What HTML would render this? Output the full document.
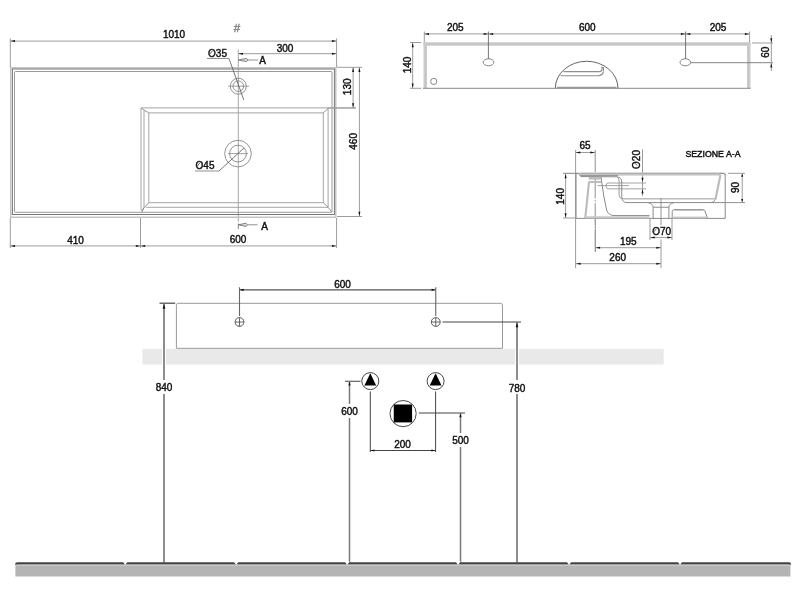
<!DOCTYPE html>
<html><head><meta charset="utf-8"><style>
html,body{margin:0;padding:0;background:#fff;width:800px;height:600px;overflow:hidden}
svg{display:block;will-change:transform}
text{font-family:"Liberation Sans",sans-serif}
</style></head><body>
<svg width="800" height="600" viewBox="0 0 800 600">
<line x1="10.3" y1="38.5" x2="10.3" y2="67.5" stroke="#9c9c9c" stroke-width="1" />
<line x1="336.6" y1="38.5" x2="336.6" y2="67.5" stroke="#9c9c9c" stroke-width="1" />
<line x1="10.3" y1="41.1" x2="336.6" y2="41.1" stroke="#9c9c9c" stroke-width="1" />
<polygon points="10.50,41.10 15.00,40.10 15.00,42.10" fill="#111"/>
<polygon points="336.40,41.10 331.90,42.10 331.90,40.10" fill="#111"/>
<text x="174" y="38.3" font-size="10" fill="#111" stroke="#111" stroke-width="0.42" text-anchor="middle" >1010</text>
<text x="237" y="31.8" font-size="11.5" fill="#8a8a8a" stroke="#8a8a8a" stroke-width="0.5" text-anchor="middle" >#</text>
<line x1="238.3" y1="53.7" x2="336.6" y2="53.7" stroke="#9c9c9c" stroke-width="1" />
<polygon points="238.50,53.70 243.00,52.70 243.00,54.70" fill="#111"/>
<polygon points="336.40,53.70 331.90,54.70 331.90,52.70" fill="#111"/>
<text x="285" y="51.7" font-size="10" fill="#111" stroke="#111" stroke-width="0.42" text-anchor="middle" >300</text>
<line x1="238.3" y1="49.5" x2="238.3" y2="221.5" stroke="#9c9c9c" stroke-width="0.9" />
<line x1="248" y1="60" x2="257.8" y2="60" stroke="#888" stroke-width="0.9" />
<polygon points="238.4,60 246.3,58.4 248.1,60 246.3,61.6" fill="#ddd" stroke="#555" stroke-width="0.7"/>
<text x="262.5" y="64" font-size="10" fill="#111" stroke="#111" stroke-width="0.42" text-anchor="middle" >A</text>
<line x1="247.5" y1="224.8" x2="257.6" y2="224.8" stroke="#888" stroke-width="0.9" />
<polygon points="238.4,224.8 246,223.2 247.6,224.8 246,226.4" fill="#ddd" stroke="#555" stroke-width="0.7"/>
<text x="264.5" y="229.5" font-size="10" fill="#111" stroke="#111" stroke-width="0.42" text-anchor="middle" >A</text>
<line x1="238.3" y1="223.5" x2="238.3" y2="229" stroke="#777" stroke-width="0.9" />
<rect x="10.75" y="67.75" width="325" height="149.5" fill="none" stroke="#c4c4c4" stroke-width="1.5" />
<rect x="12.4" y="69.0" width="322" height="145.5" fill="none" stroke="#777" stroke-width="1" />
<rect x="14.5" y="71.5" width="317.5" height="140.8" fill="none" stroke="#9a9a9a" stroke-width="1" rx="0.8"/>
<line x1="141" y1="107.9" x2="356" y2="107.9" stroke="#a4a4a4" stroke-width="1" />
<line x1="141" y1="107.9" x2="141" y2="210.5" stroke="#a4a4a4" stroke-width="1" />
<line x1="144" y1="110.5" x2="144" y2="207.3" stroke="#a4a4a4" stroke-width="1" />
<line x1="148.8" y1="112.9" x2="323.3" y2="112.9" stroke="#a4a4a4" stroke-width="1" />
<line x1="148.8" y1="112.9" x2="148.8" y2="202.7" stroke="#a4a4a4" stroke-width="1" />
<line x1="323.3" y1="112.9" x2="323.3" y2="202.7" stroke="#a4a4a4" stroke-width="1" />
<line x1="148.8" y1="202.7" x2="323.3" y2="202.7" stroke="#a4a4a4" stroke-width="1" />
<line x1="328.1" y1="108" x2="328.1" y2="207.3" stroke="#a4a4a4" stroke-width="1" />
<line x1="146" y1="207.3" x2="328.1" y2="207.3" stroke="#a4a4a4" stroke-width="1" />
<line x1="141.5" y1="108.5" x2="148.8" y2="112.9" stroke="#7a7a7a" stroke-width="0.8" />
<line x1="323.3" y1="112.9" x2="328.1" y2="108.5" stroke="#7a7a7a" stroke-width="0.8" />
<line x1="148.8" y1="202.7" x2="141.5" y2="210.5" stroke="#7a7a7a" stroke-width="0.8" />
<line x1="144" y1="207.3" x2="142" y2="212.3" stroke="#7a7a7a" stroke-width="0.8" />
<line x1="323.3" y1="202.7" x2="328.1" y2="207.3" stroke="#7a7a7a" stroke-width="0.8" />
<line x1="328.1" y1="207.3" x2="331.9" y2="212.3" stroke="#7a7a7a" stroke-width="0.8" />
<circle cx="238.3" cy="86.2" r="8" stroke="#888" stroke-width="0.9" fill="none"/>
<circle cx="238.3" cy="86.2" r="5.3" stroke="#888" stroke-width="0.9" fill="none"/>
<line x1="228" y1="86.2" x2="249" y2="86.2" stroke="#888" stroke-width="0.8" />
<text x="217.5" y="56.5" font-size="10" fill="#111" stroke="#111" stroke-width="0.42" text-anchor="middle" >O35</text>
<line x1="207" y1="58.5" x2="229" y2="58.5" stroke="#777" stroke-width="0.8" />
<line x1="229" y1="58.5" x2="243.8" y2="100" stroke="#555" stroke-width="0.8" />
<circle cx="238" cy="153.6" r="13.3" stroke="#888" stroke-width="0.9" fill="none"/>
<circle cx="238" cy="153.6" r="8.4" stroke="#888" stroke-width="0.9" fill="none"/>
<line x1="228" y1="153.6" x2="248" y2="153.6" stroke="#888" stroke-width="0.8" />
<line x1="244" y1="148" x2="219" y2="171" stroke="#555" stroke-width="0.8" />
<line x1="195" y1="171" x2="219" y2="171" stroke="#777" stroke-width="0.8" />
<text x="205" y="168.5" font-size="10" fill="#111" stroke="#111" stroke-width="0.42" text-anchor="middle" >O45</text>
<line x1="337" y1="67.3" x2="362" y2="67.3" stroke="#9c9c9c" stroke-width="1" />
<line x1="328" y1="108" x2="356" y2="108" stroke="#9c9c9c" stroke-width="1" />
<line x1="337" y1="216.5" x2="362" y2="216.5" stroke="#9c9c9c" stroke-width="1" />
<line x1="353.1" y1="67.3" x2="353.1" y2="108" stroke="#9c9c9c" stroke-width="1" />
<polygon points="353.10,67.50 354.10,72.00 352.10,72.00" fill="#111"/>
<polygon points="353.10,107.80 352.10,103.30 354.10,103.30" fill="#111"/>
<line x1="359.4" y1="67.3" x2="359.4" y2="216.5" stroke="#9c9c9c" stroke-width="1" />
<polygon points="359.40,67.50 360.40,72.00 358.40,72.00" fill="#111"/>
<polygon points="359.40,216.30 358.40,211.80 360.40,211.80" fill="#111"/>
<text x="351" y="86.8" font-size="10" fill="#111" stroke="#111" stroke-width="0.42" text-anchor="middle" transform="rotate(-90 351 86.8)" >130</text>
<text x="357" y="141.4" font-size="10" fill="#111" stroke="#111" stroke-width="0.42" text-anchor="middle" transform="rotate(-90 357 141.4)" >460</text>
<line x1="10.3" y1="218" x2="10.3" y2="248" stroke="#9c9c9c" stroke-width="1" />
<line x1="140.5" y1="218" x2="140.5" y2="248" stroke="#9c9c9c" stroke-width="1" />
<line x1="336.6" y1="218" x2="336.6" y2="248" stroke="#9c9c9c" stroke-width="1" />
<line x1="10.3" y1="245.9" x2="336.6" y2="245.9" stroke="#9c9c9c" stroke-width="1" />
<polygon points="10.50,245.90 15.00,244.90 15.00,246.90" fill="#111"/>
<polygon points="140.30,245.90 135.80,246.90 135.80,244.90" fill="#111"/>
<polygon points="140.70,245.90 145.20,244.90 145.20,246.90" fill="#111"/>
<polygon points="336.40,245.90 331.90,246.90 331.90,244.90" fill="#111"/>
<text x="75.5" y="243.6" font-size="10" fill="#111" stroke="#111" stroke-width="0.42" text-anchor="middle" >410</text>
<text x="238" y="243.3" font-size="10" fill="#111" stroke="#111" stroke-width="0.42" text-anchor="middle" >600</text>
<rect x="423.5" y="42.3" width="327" height="3.4" fill="#c6c6c6" stroke="none" stroke-width="1" />
<rect x="423.5" y="42.3" width="3" height="46" fill="#cccccc" stroke="none" stroke-width="1" />
<rect x="747.5" y="42.3" width="3" height="46" fill="#cccccc" stroke="none" stroke-width="1" />
<line x1="426.2" y1="45.5" x2="426.2" y2="88" stroke="#b0b0b0" stroke-width="0.7" />
<line x1="747.8" y1="45.5" x2="747.8" y2="88" stroke="#b0b0b0" stroke-width="0.7" />
<line x1="423" y1="88.3" x2="750.7" y2="88.3" stroke="#8a8a8a" stroke-width="1" />
<line x1="424.3" y1="31.5" x2="424.3" y2="42" stroke="#9c9c9c" stroke-width="1" />
<line x1="749.6" y1="31.5" x2="749.6" y2="42" stroke="#9c9c9c" stroke-width="1" />
<line x1="424.3" y1="33.9" x2="749.6" y2="33.9" stroke="#9c9c9c" stroke-width="1" />
<line x1="488.4" y1="31.5" x2="488.4" y2="59" stroke="#666" stroke-width="0.9" />
<line x1="685.6" y1="31.5" x2="685.6" y2="59" stroke="#666" stroke-width="0.9" />
<polygon points="424.50,33.90 429.00,32.90 429.00,34.90" fill="#111"/>
<polygon points="488.20,33.90 483.70,34.90 483.70,32.90" fill="#111"/>
<polygon points="488.60,33.90 493.10,32.90 493.10,34.90" fill="#111"/>
<polygon points="685.40,33.90 680.90,34.90 680.90,32.90" fill="#111"/>
<polygon points="685.80,33.90 690.30,32.90 690.30,34.90" fill="#111"/>
<polygon points="749.40,33.90 744.90,34.90 744.90,32.90" fill="#111"/>
<text x="455.3" y="31" font-size="10" fill="#111" stroke="#111" stroke-width="0.42" text-anchor="middle" >205</text>
<text x="587.3" y="31" font-size="10" fill="#111" stroke="#111" stroke-width="0.42" text-anchor="middle" >600</text>
<text x="718" y="31" font-size="10" fill="#111" stroke="#111" stroke-width="0.42" text-anchor="middle" >205</text>
<ellipse cx="488.5" cy="62.3" rx="5.3" ry="3.5" fill="none" stroke="#777" stroke-width="0.9"/>
<ellipse cx="685.3" cy="62.3" rx="5.3" ry="3.5" fill="none" stroke="#777" stroke-width="0.9"/>
<circle cx="433.75" cy="81.4" r="3.1" stroke="#777" stroke-width="0.9" fill="none"/>
<line x1="410" y1="42.5" x2="421.3" y2="42.5" stroke="#9c9c9c" stroke-width="1" />
<line x1="410" y1="88.3" x2="421.3" y2="88.3" stroke="#9c9c9c" stroke-width="1" />
<line x1="412.7" y1="42.5" x2="412.7" y2="88.3" stroke="#9c9c9c" stroke-width="1" />
<polygon points="412.70,42.70 413.70,47.20 411.70,47.20" fill="#111"/>
<polygon points="412.70,88.10 411.70,83.60 413.70,83.60" fill="#111"/>
<text x="410.5" y="65" font-size="10" fill="#111" stroke="#111" stroke-width="0.42" text-anchor="middle" transform="rotate(-90 410.5 65)" >140</text>
<line x1="752" y1="43" x2="773" y2="43" stroke="#9c9c9c" stroke-width="1" />
<line x1="690.4" y1="62.7" x2="773" y2="62.7" stroke="#777" stroke-width="0.9" />
<line x1="771.3" y1="35" x2="771.3" y2="71" stroke="#9c9c9c" stroke-width="1" />
<polygon points="771.30,42.80 770.30,38.30 772.30,38.30" fill="#111"/>
<polygon points="771.30,62.90 772.30,67.40 770.30,67.40" fill="#111"/>
<text x="769" y="52.3" font-size="10" fill="#111" stroke="#111" stroke-width="0.42" text-anchor="middle" transform="rotate(-90 769 52.3)" >60</text>
<path d="M555.3,88.3 A31.3,27 0 0 1 618,88.3" stroke="#555" stroke-width="0.9" fill="none" />
<path d="M563.5,71.6 L599.5,71.6 Q602,71.6 602,69 L602,67.2 L603.5,67.6 L603.5,71" stroke="#8e8e8e" stroke-width="1.1" fill="none" />
<path d="M560.5,75.7 L598,75.7 Q602.5,75.7 603.5,71.5" stroke="#8e8e8e" stroke-width="1.1" fill="none" />
<line x1="557" y1="87.6" x2="616.5" y2="87.6" stroke="#999" stroke-width="1.6" />
<text x="713" y="156.6" font-size="9.4" fill="#111" stroke="#111" stroke-width="0.45" text-anchor="middle" textLength="55.2" lengthAdjust="spacingAndGlyphs">SEZIONE A-A</text>
<line x1="575.6" y1="150" x2="575.6" y2="218" stroke="#9c9c9c" stroke-width="1" />
<line x1="575.6" y1="218" x2="575.6" y2="268" stroke="#9c9c9c" stroke-width="1" />
<line x1="575.6" y1="152.5" x2="595" y2="152.5" stroke="#9c9c9c" stroke-width="1" />
<polygon points="575.80,152.50 580.30,151.50 580.30,153.50" fill="#111"/>
<polygon points="594.80,152.50 590.30,153.50 590.30,151.50" fill="#111"/>
<text x="585" y="149" font-size="10" fill="#111" stroke="#111" stroke-width="0.42" text-anchor="middle" >65</text>
<line x1="595.2" y1="150" x2="595.2" y2="252" stroke="#909090" stroke-width="1" stroke-dasharray="22,1.5,1.5,1.5"/>
<line x1="563" y1="173.5" x2="576" y2="173.5" stroke="#9c9c9c" stroke-width="1" />
<line x1="563" y1="218" x2="576" y2="218" stroke="#9c9c9c" stroke-width="1" />
<line x1="565.6" y1="173.5" x2="565.6" y2="218" stroke="#9c9c9c" stroke-width="1" />
<polygon points="565.60,173.70 566.60,178.20 564.60,178.20" fill="#111"/>
<polygon points="565.60,217.80 564.60,213.30 566.60,213.30" fill="#111"/>
<text x="564" y="196.4" font-size="10" fill="#111" stroke="#111" stroke-width="0.42" text-anchor="middle" transform="rotate(-90 564 196.4)" >140</text>
<line x1="642.5" y1="149.4" x2="642.5" y2="196" stroke="#9c9c9c" stroke-width="1" />
<polygon points="642.50,182.30 641.50,177.80 643.50,177.80" fill="#111"/>
<polygon points="642.50,189.00 643.50,193.50 641.50,193.50" fill="#111"/>
<text x="640" y="159.5" font-size="10" fill="#111" stroke="#111" stroke-width="0.42" text-anchor="middle" transform="rotate(-90 640 159.5)" >O20</text>
<path d="M646,183 L608,183 Q606,183 606,186 Q606,188.85 608,188.85 L646,188.85" stroke="#999" stroke-width="0.9" fill="none" />
<line x1="597.4" y1="185.6" x2="628.9" y2="185.6" stroke="#999" stroke-width="0.9" />
<rect x="580" y="172.8" width="140" height="2.8" fill="#c6c6c6" stroke="none" stroke-width="1" />
<line x1="563" y1="173.2" x2="725.4" y2="173.2" stroke="#999" stroke-width="0.8" />
<line x1="576" y1="173" x2="576" y2="218.3" stroke="#8a8a8a" stroke-width="1" />
<line x1="725.2" y1="174" x2="725.2" y2="218.3" stroke="#8a8a8a" stroke-width="1" />
<line x1="576" y1="218.4" x2="725.4" y2="218.4" stroke="#8a8a8a" stroke-width="1" />
<path d="M720,173.2 Q724.5,173 725.2,175" stroke="#888" stroke-width="1" fill="none" />
<path d="M576,173.3 Q578.8,173 579.6,175 L580.8,176.6 L617,176.8 Q621.75,177.3 621.75,182 L621.75,197.5 Q622.2,202.6 627,202.6 L745,202.6" stroke="#8a8a8a" stroke-width="1" fill="none" />
<path d="M617.5,177.5 Q619.1,178.5 619.1,181 L619.1,195.5 Q619.5,198.85 623,198.85" stroke="#9a9a9a" stroke-width="1" fill="none" />
<line x1="580.5" y1="175.6" x2="618" y2="175.6" stroke="#888" stroke-width="0.9" />
<rect x="588.75" y="177" width="12" height="2.6" fill="#bdbdbd" stroke="none" stroke-width="1" />
<rect x="588.5" y="181" width="12.5" height="2" fill="#bdbdbd" stroke="none" stroke-width="1" />
<line x1="589" y1="182" x2="585.3" y2="218" stroke="#bcbcbc" stroke-width="2.2" />
<path d="M601,177 L603.6,195 L606.6,210 Q608.5,215.4 614,215.6 L649.6,215.6" stroke="#8a8a8a" stroke-width="1" fill="none" />
<rect x="585" y="216.3" width="64.6" height="2.2" fill="#c6c6c6" stroke="none" stroke-width="1" />
<path d="M623,198.85 L715.5,198.85" stroke="#9a9a9a" stroke-width="1" fill="none" />
<line x1="720.5" y1="174.5" x2="715.5" y2="199.3" stroke="#bcbcbc" stroke-width="2.2" />
<path d="M715.5,199.3 Q714,202.4 711,202.6" stroke="#888" stroke-width="0.9" fill="none" />
<path d="M648.25,202.75 Q652.8,203.5 653.1,207.25 L653.1,218.4" stroke="#8a8a8a" stroke-width="1" fill="none" />
<path d="M673.75,202.75 Q669.2,203.5 668.9,207.25 L668.9,218.4" stroke="#8a8a8a" stroke-width="1" fill="none" />
<line x1="653.1" y1="207.25" x2="668.9" y2="207.25" stroke="#8a8a8a" stroke-width="1" />
<line x1="661" y1="198" x2="661" y2="225" stroke="#888" stroke-width="0.9" />
<path d="M672.2,218.4 L672.2,211.5 Q672.5,209.5 675,209.5 L703,209.5 Q704.5,209.6 705,211 L707.5,218.4" stroke="#8a8a8a" stroke-width="1" fill="none" />
<line x1="675" y1="210.3" x2="703.5" y2="210.3" stroke="#c0c0c0" stroke-width="1.2" />
<rect x="672.5" y="216.6" width="35" height="1.8" fill="#c6c6c6" stroke="none" stroke-width="1" />
<line x1="650" y1="218" x2="650" y2="240" stroke="#9c9c9c" stroke-width="1" />
<line x1="672" y1="218" x2="672" y2="240" stroke="#9c9c9c" stroke-width="1" />
<line x1="650" y1="237.6" x2="672" y2="237.6" stroke="#9c9c9c" stroke-width="1" />
<polygon points="650.20,237.60 654.70,236.60 654.70,238.60" fill="#111"/>
<polygon points="671.80,237.60 667.30,238.60 667.30,236.60" fill="#111"/>
<text x="661.6" y="234.5" font-size="10" fill="#111" stroke="#111" stroke-width="0.42" text-anchor="middle" >O70</text>
<line x1="595.4" y1="218" x2="595.4" y2="252" stroke="#9c9c9c" stroke-width="1" />
<line x1="661" y1="239.5" x2="661" y2="268" stroke="#9c9c9c" stroke-width="1" />
<line x1="595.4" y1="247.7" x2="661" y2="247.7" stroke="#9c9c9c" stroke-width="1" />
<polygon points="595.60,247.70 600.10,246.70 600.10,248.70" fill="#111"/>
<polygon points="660.80,247.70 656.30,248.70 656.30,246.70" fill="#111"/>
<text x="628.3" y="245" font-size="10" fill="#111" stroke="#111" stroke-width="0.42" text-anchor="middle" >195</text>
<line x1="576" y1="263.7" x2="661" y2="263.7" stroke="#9c9c9c" stroke-width="1" />
<polygon points="576.20,263.70 580.70,262.70 580.70,264.70" fill="#111"/>
<polygon points="660.80,263.70 656.30,264.70 656.30,262.70" fill="#111"/>
<text x="617.7" y="261" font-size="10" fill="#111" stroke="#111" stroke-width="0.42" text-anchor="middle" >260</text>
<line x1="728" y1="173.3" x2="745" y2="173.3" stroke="#9c9c9c" stroke-width="1" />
<line x1="725.4" y1="202.5" x2="745" y2="202.5" stroke="#9c9c9c" stroke-width="1" />
<line x1="742.2" y1="173.3" x2="742.2" y2="202.5" stroke="#9c9c9c" stroke-width="1" />
<polygon points="742.20,173.50 743.20,176.70 741.20,176.70" fill="#111"/>
<polygon points="742.20,202.30 741.20,199.10 743.20,199.10" fill="#111"/>
<text x="739.3" y="187.4" font-size="10" fill="#111" stroke="#111" stroke-width="0.42" text-anchor="middle" transform="rotate(-90 739.3 187.4)" >90</text>
<rect x="142.4" y="348.9" width="521.3" height="15.7" fill="#e9e9e9" stroke="none" stroke-width="1" />
<path d="M176.4,348.3 L176.4,305.3 Q176.4,303.3 178.4,303.3 L500.5,303.3 Q502.5,303.3 502.5,305.3 L502.5,348.3 Z" stroke="#999" stroke-width="1" fill="none" />
<line x1="239.5" y1="289.8" x2="435.75" y2="289.8" stroke="#555" stroke-width="1.25" />
<line x1="239.5" y1="287.3" x2="239.5" y2="316" stroke="#666" stroke-width="1.1" />
<line x1="435.75" y1="287.3" x2="435.75" y2="316" stroke="#666" stroke-width="1.1" />
<polygon points="239.70,289.80 243.70,288.70 243.70,290.90" fill="#111"/>
<polygon points="435.55,289.80 431.55,290.90 431.55,288.70" fill="#111"/>
<text x="342.5" y="288" font-size="10" fill="#111" stroke="#111" stroke-width="0.42" text-anchor="middle" >600</text>
<circle cx="239.5" cy="322" r="4.4" stroke="#555" stroke-width="1" fill="#fff"/>
<line x1="235.1" y1="322" x2="243.9" y2="322" stroke="#555" stroke-width="0.9" />
<line x1="239.5" y1="317.6" x2="239.5" y2="326.4" stroke="#555" stroke-width="0.9" />
<circle cx="435.75" cy="322" r="4.4" stroke="#555" stroke-width="1" fill="#fff"/>
<line x1="431.35" y1="322" x2="440.15" y2="322" stroke="#555" stroke-width="0.9" />
<line x1="435.75" y1="317.6" x2="435.75" y2="326.4" stroke="#555" stroke-width="0.9" />
<line x1="442.5" y1="322" x2="521" y2="322" stroke="#444" stroke-width="1" />
<line x1="159.5" y1="303.2" x2="175.2" y2="303.2" stroke="#444" stroke-width="1.2" />
<line x1="164" y1="348.5" x2="164" y2="365" stroke="#fff" stroke-width="4"/>
<line x1="164" y1="303.5" x2="164" y2="562.5" stroke="#7a7a7a" stroke-width="1.7" />
<polygon points="164.00,303.80 165.30,308.80 162.70,308.80" fill="#111"/>
<rect x="154" y="380" width="20" height="14" fill="#fff" stroke="none" stroke-width="1" />
<text x="164" y="391" font-size="10" fill="#111" stroke="#111" stroke-width="0.42" text-anchor="middle" >840</text>
<line x1="517" y1="348" x2="517" y2="366" stroke="#fff" stroke-width="4"/>
<line x1="517" y1="322" x2="517" y2="562.5" stroke="#7a7a7a" stroke-width="1.7" />
<polygon points="517.00,322.30 518.30,327.30 515.70,327.30" fill="#111"/>
<rect x="507" y="380" width="20" height="14" fill="#fff" stroke="none" stroke-width="1" />
<text x="517" y="391.5" font-size="10" fill="#111" stroke="#111" stroke-width="0.42" text-anchor="middle" >780</text>
<circle cx="370.3" cy="381.1" r="8.5" stroke="#333" stroke-width="0.9" fill="#fff"/>
<polygon points="370.3,373.2 364.40000000000003,385.6 376.2,385.6" fill="#000"/>
<line x1="370.3" y1="391.5" x2="370.3" y2="452" stroke="#444" stroke-width="1" />
<circle cx="435.6" cy="381.1" r="8.5" stroke="#333" stroke-width="0.9" fill="#fff"/>
<polygon points="435.6,373.2 429.70000000000005,385.6 441.5,385.6" fill="#000"/>
<line x1="435.6" y1="391.5" x2="435.6" y2="452" stroke="#444" stroke-width="1" />
<line x1="370.3" y1="450.5" x2="435.6" y2="450.5" stroke="#444" stroke-width="1" />
<polygon points="370.50,450.50 374.50,449.50 374.50,451.50" fill="#111"/>
<polygon points="435.40,450.50 431.40,451.50 431.40,449.50" fill="#111"/>
<text x="402.5" y="448" font-size="10" fill="#111" stroke="#111" stroke-width="0.42" text-anchor="middle" >200</text>
<line x1="345" y1="381.25" x2="360.5" y2="381.25" stroke="#444" stroke-width="1" />
<line x1="349.5" y1="381.25" x2="349.5" y2="562.5" stroke="#7a7a7a" stroke-width="1.5" />
<polygon points="349.50,381.50 350.60,385.50 348.40,385.50" fill="#111"/>
<rect x="340" y="404" width="20" height="14" fill="#fff" stroke="none" stroke-width="1" />
<text x="349.5" y="415.3" font-size="10" fill="#111" stroke="#111" stroke-width="0.42" text-anchor="middle" >600</text>
<circle cx="403.1" cy="413.6" r="13.1" stroke="#333" stroke-width="0.9" fill="#fff"/>
<rect x="393.75" y="404.5" width="18.35" height="17.9" fill="#000" stroke="none" stroke-width="1" />
<line x1="418.75" y1="413" x2="465" y2="413" stroke="#444" stroke-width="1" />
<line x1="460.5" y1="413" x2="460.5" y2="562.5" stroke="#7a7a7a" stroke-width="1.5" />
<polygon points="460.50,413.30 461.60,417.30 459.40,417.30" fill="#111"/>
<rect x="451" y="433" width="20" height="14" fill="#fff" stroke="none" stroke-width="1" />
<text x="460.5" y="444.3" font-size="10" fill="#111" stroke="#111" stroke-width="0.42" text-anchor="middle" >500</text>
<rect x="15.4" y="564" width="775" height="12.5" fill="#b4b4b4" stroke="none" stroke-width="1" />
<line x1="15.4" y1="565.2" x2="790.4" y2="565.2" stroke="#cfcfcf" stroke-width="1" />
<path d="M16,564.6 Q16,563.2 17.5,563.2 L789,563.2 Q790.2,563.2 790.2,564.6" stroke="#444" stroke-width="2" fill="none" />
<polygon points="122.75,561.5 127.75,561.5 125.25,565" fill="#fff"/>
<polygon points="233.7,561.5 238.7,561.5 236.2,565" fill="#fff"/>
<polygon points="344.65,561.5 349.65,561.5 347.15,565" fill="#fff"/>
<polygon points="455.6,561.5 460.6,561.5 458.1,565" fill="#fff"/>
<polygon points="566.55,561.5 571.55,561.5 569.05,565" fill="#fff"/>
<polygon points="677.5,561.5 682.5,561.5 680,565" fill="#fff"/>
<line x1="209.7" y1="54.3" x2="212.5" y2="50.7" stroke="#333" stroke-width="0.75" />
<line x1="197.2" y1="166.2" x2="200" y2="162.6" stroke="#333" stroke-width="0.75" />
<line x1="653.6" y1="232.2" x2="656.5" y2="228.6" stroke="#333" stroke-width="0.75" />
<line x1="634.1" y1="162.6" x2="637.3" y2="165.4" stroke="#333" stroke-width="0.75" />
</svg>
</body></html>
